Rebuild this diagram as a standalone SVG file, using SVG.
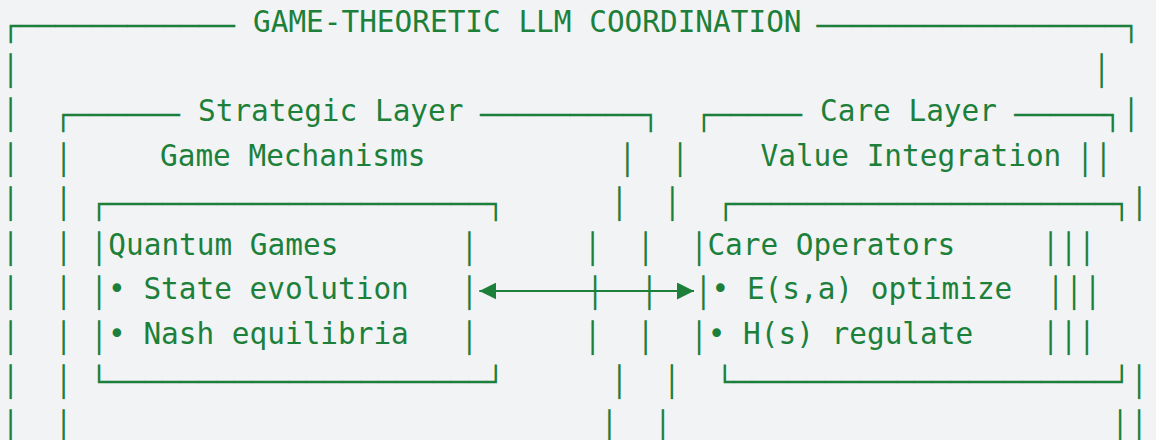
<svg xmlns="http://www.w3.org/2000/svg" width="1156" height="440" viewBox="0 0 1156 440">
<style>
text { font-family: "DejaVu Sans Mono", "Liberation Mono", monospace; font-size: 29.4px; fill: #1c803a; }
.v { text-anchor: middle; }
.conn { stroke: #1c803a; stroke-width: 2.2; fill: none; }
</style>
<defs>
<marker id="ah" viewBox="0 0 17 17" refX="17" refY="8.5" markerWidth="17" markerHeight="17" markerUnits="userSpaceOnUse" orient="auto-start-reverse"><path d="M0,0 L17,8.5 L0,17 z" fill="#1c803a"/></marker>
</defs>
<rect x="0" y="0" width="1156" height="440" fill="#f1f3f5"/>

<g id="frame">
<text x="1.8" y="36" textLength="233.2" lengthAdjust="spacingAndGlyphs">┌────────────</text>
<text x="253" y="32.3">GAME-THEORETIC LLM COORDINATION</text>
<text x="816.5" y="36" textLength="323.8" lengthAdjust="spacingAndGlyphs">─────────────────┐</text>
<text class="v" x="10.7" y="80.5">│</text>
<text class="v" x="10.7" y="125">│</text>
<text class="v" x="10.7" y="169.5">│</text>
<text class="v" x="10.7" y="214">│</text>
<text class="v" x="10.6" y="258.5">│</text>
<text class="v" x="10.6" y="303">│</text>
<text class="v" x="10.6" y="347.5">│</text>
<text class="v" x="10.6" y="392">│</text>
<text class="v" x="10.6" y="436.5">│</text>
<text class="v" x="1101.5" y="80.5">│</text>
<text class="v" x="1131" y="125">│</text>
<text class="v" x="1103.3" y="169.5">│</text>
<text class="v" x="1139.3" y="214">│</text>
<text class="v" x="1086.8" y="258.5">│</text>
<text class="v" x="1092.5" y="303">│</text>
<text class="v" x="1086.8" y="347.5">│</text>
<text class="v" x="1139.2" y="392">│</text>
<text class="v" x="1139" y="436.5">│</text>
</g>

<g id="strategic-layer">
<text x="54.3" y="125" textLength="125.7" lengthAdjust="spacingAndGlyphs">┌──────</text>
<text x="198" y="121.3">Strategic Layer</text>
<text x="480" y="125" textLength="179.7" lengthAdjust="spacingAndGlyphs">─────────┐</text>
<text x="160" y="165.8">Game Mechanisms</text>
<text class="v" x="63.5" y="169.5">│</text>
<text class="v" x="63.5" y="214">│</text>
<text class="v" x="63.5" y="258.5">│</text>
<text class="v" x="63.5" y="303">│</text>
<text class="v" x="63.5" y="347.5">│</text>
<text class="v" x="63.5" y="392">│</text>
<text class="v" x="63.5" y="436.5">│</text>
<text class="v" x="627.3" y="169.5">│</text>
<text class="v" x="619.3" y="214">│</text>
<text class="v" x="592.7" y="258.5">│</text>
<text class="v" x="595" y="303">│</text>
<text class="v" x="592.7" y="347.5">│</text>
<text class="v" x="619.4" y="392">│</text>
<text class="v" x="609.3" y="436.5">│</text>
</g>

<g id="quantum-games">
<text x="90.1" y="214" textLength="414.7" lengthAdjust="spacingAndGlyphs">┌─────────────────────┐</text>
<text class="v" x="99.1" y="258.5">│</text>
<text class="v" x="99.1" y="303">│</text>
<text class="v" x="99.1" y="347.5">│</text>
<text x="108.3" y="254.8">Quantum Games</text>
<text x="108" y="299.3">• State evolution</text>
<text x="108" y="343.8">• Nash equilibria</text>
<text class="v" x="469.3" y="258.5">│</text>
<text class="v" x="469.3" y="303">│</text>
<text class="v" x="469.3" y="347.5">│</text>
<text x="90.1" y="392" textLength="414.7" lengthAdjust="spacingAndGlyphs">└─────────────────────┘</text>
</g>

<g id="care-layer">
<text x="695.1" y="125" textLength="106.9" lengthAdjust="spacingAndGlyphs">┌─────</text>
<text x="820" y="121.3">Care Layer</text>
<text x="1014.3" y="125" textLength="107.4" lengthAdjust="spacingAndGlyphs">─────┐</text>
<text x="760.5" y="165.8">Value Integration</text>
<text class="v" x="680" y="169.5">│</text>
<text class="v" x="672.3" y="214">│</text>
<text class="v" x="645.7" y="258.5">│</text>
<text class="v" x="649.3" y="303">│</text>
<text class="v" x="645.7" y="347.5">│</text>
<text class="v" x="671.8" y="392">│</text>
<text class="v" x="662.8" y="436.5">│</text>
<text class="v" x="1085" y="169.5">│</text>
<text class="v" x="1068.5" y="258.5">│</text>
<text class="v" x="1074" y="303">│</text>
<text class="v" x="1068.5" y="347.5">│</text>
<text class="v" x="1120" y="436.5">│</text>
</g>

<g id="care-operators">
<text x="716.8" y="214" textLength="413.9" lengthAdjust="spacingAndGlyphs">┌─────────────────────┐</text>
<text class="v" x="699" y="258.5">│</text>
<text class="v" x="703.4" y="303">│</text>
<text class="v" x="699" y="347.5">│</text>
<text x="707.4" y="254.8">Care Operators</text>
<text x="711.5" y="299.3">• E(s,a) optimize</text>
<text x="707.7" y="343.8">• H(s) regulate</text>
<text class="v" x="1050.5" y="258.5">│</text>
<text class="v" x="1055.5" y="303">│</text>
<text class="v" x="1050.5" y="347.5">│</text>
<text x="715.8" y="392" textLength="414.9" lengthAdjust="spacingAndGlyphs">└─────────────────────┘</text>
</g>

<g id="connectors">
<line class="conn" x1="479.3" y1="291" x2="694" y2="291" marker-start="url(#ah)" marker-end="url(#ah)"/>
</g>
</svg>
